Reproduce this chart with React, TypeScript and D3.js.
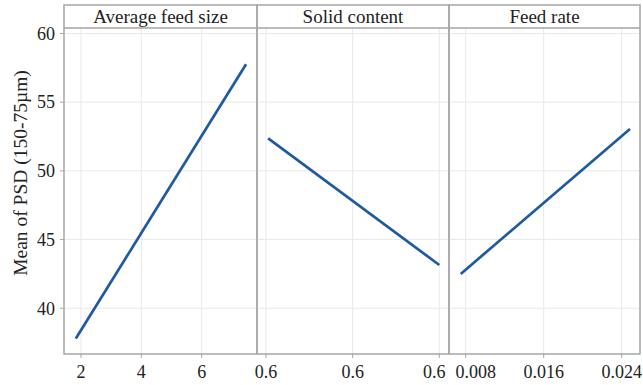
import React from "react";
import * as d3 from "d3";

const W = 643;
const H = 385;

const panelTitles = ["Average feed size", "Solid content", "Feed rate"];
const panelXDomains: [number, number][] = [
  [1.437, 7.833],
  [0.55585, 0.64448],
  [0.006287, 0.025877],
];
const panelTicks = [
  [2, 4, 6],
  [0.56, 0.6, 0.64],
  [0.008, 0.016, 0.024],
];
const panelTickFormats = [d3.format("d"), d3.format(".1f"), d3.format(".3f")];
const seriesX = [
  [1.83, 7.47],
  [0.561, 0.64],
  [0.00749, 0.02485],
];
const seriesY = [
  [37.8, 57.76],
  [52.37, 43.15],
  [42.5, 53.05],
];
const yTicks = [40, 45, 50, 55, 60];
const yDomain: [number, number] = [36.67, 60.4];

const panelEdges = [64, 257, 449, 640];
const stripTop = 5;
const plotTop = 28;
const plotBottom = 354;

const font = "'Liberation Serif', 'Times New Roman', serif";
const borderColor = "#a6a6a6";
const gridColor = "#e8e8e8";
const lineColor = "#1f5aa0";

// label nudges to keep adjacent panel labels apart (as in the reference)
function labelNudge(panel: number, idx: number, n: number) {
  if (panel === 1 && idx === n - 1) return -5;
  if (panel === 2 && idx === 0) return 10;
  return 0;
}

export default function App() {
  const y = d3.scaleLinear().domain(yDomain).range([plotBottom, plotTop]);
  return (
    <svg width={W} height={H} style={{ position: "absolute", left: 0, top: 0, background: "#fff" }}>
      {panelTitles.map((title, i) => {
        const x0 = panelEdges[i];
        const x1 = panelEdges[i + 1];
        const x = d3.scaleLinear().domain(panelXDomains[i]).range([x0, x1]);
        const line = d3
          .line<number>()
          .x((d) => x(d))
          .y((_, j) => y(seriesY[i][j]));
        const fmt = panelTickFormats[i];
        const ticks = panelTicks[i];
        return (
          <g key={title}>
            {yTicks.map((t) => (
              <line key={"h" + t} x1={x0} x2={x1} y1={y(t)} y2={y(t)} stroke={gridColor} strokeWidth={1} />
            ))}
            {ticks.map((t) => (
              <line key={"v" + t} x1={x(t)} x2={x(t)} y1={plotTop} y2={plotBottom} stroke={gridColor} strokeWidth={1} />
            ))}
            <path d={line(seriesX[i]) || ""} fill="none" stroke={lineColor} strokeWidth={2.7} />
            {ticks.map((t, k) => (
              <g key={"t" + t}>
                <line x1={x(t)} x2={x(t)} y1={plotBottom} y2={plotBottom + 4} stroke={borderColor} strokeWidth={1} />
                <text
                  x={x(t) + labelNudge(i, k, ticks.length)}
                  y={378}
                  textAnchor="middle"
                  fontFamily={font}
                  fontSize={18}
                  fill="#222"
                >
                  {fmt(t)}
                </text>
              </g>
            ))}
            <rect x={x0} y={stripTop} width={x1 - x0} height={plotBottom - stripTop} fill="none" stroke={borderColor} strokeWidth={1.5} />
            <line x1={x0} x2={x1} y1={plotTop} y2={plotTop} stroke={borderColor} strokeWidth={1.5} />
            <text x={(x0 + x1) / 2} y={22.5} textAnchor="middle" fontFamily={font} fontSize={19} fill="#222">
              {title}
            </text>
          </g>
        );
      })}
      {yTicks.map((t) => (
        <g key={"y" + t}>
          <line x1={60} x2={64} y1={y(t)} y2={y(t)} stroke={borderColor} strokeWidth={1} />
          <text x={55} y={y(t)} dy="0.35em" textAnchor="end" fontFamily={font} fontSize={18} fill="#222">
            {t}
          </text>
        </g>
      ))}
      <text
        transform={`translate(27,173) rotate(-90)`}
        textAnchor="middle"
        fontFamily={font}
        fontSize={19.5}
        fill="#222"
      >
        Mean of PSD (150-75µm)
      </text>
    </svg>
  );
}
